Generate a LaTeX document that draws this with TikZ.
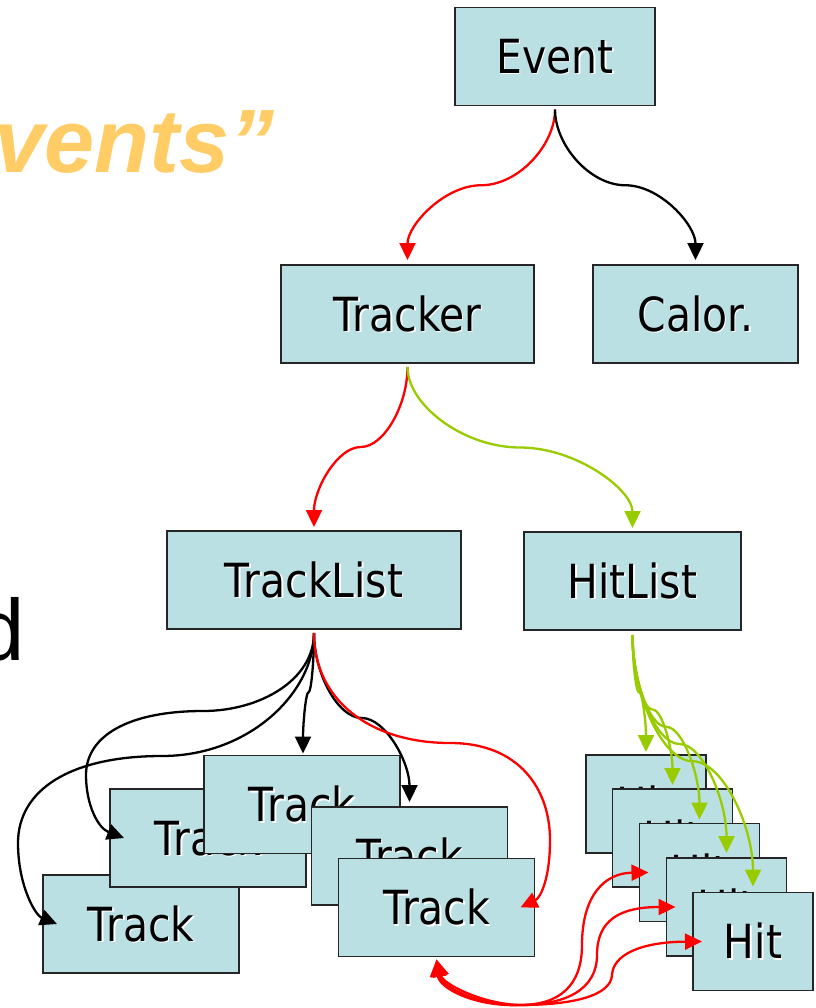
\documentclass[tikz,border=0pt]{standalone}
\usepackage{fontspec}
\setmainfont{DejaVu Sans}[FakeStretch=0.87]
\newfontfamily\plainsans{Liberation Sans}
\usetikzlibrary{arrows.meta,calc}

\definecolor{boxfill}{HTML}{BBE0E3}
\definecolor{hitgreen}{HTML}{99CC00}
\definecolor{titleorange}{HTML}{FFCC66}

% label with a soft white drop shadow
\newcommand\shd[1]{\leavevmode\rlap{\kern1.5pt\lower1.5pt\hbox{\color{white}#1}}#1}

\tikzset{
  box/.style={draw=black!85, line width=1.8pt, fill=boxfill, inner sep=0pt, outer sep=0pt,
    minimum height=98pt, text height=34pt, text depth=0pt,
    font=\fontsize{47}{56}\selectfont},
  trk/.style={box, minimum width=196pt},
  hitbox/.style={box, minimum width=120pt},
  headtri/.tip={Triangle[width=16pt,length=17pt]},
  arr/.style={-headtri},
  conn/.style={line width=2.3pt, arr},
  blk/.style={conn, draw=black},
  rd/.style={conn, draw=red},
  gr/.style={conn, draw=hitgreen},
  % curved connector: vertical at both ends, horizontal through the midpoint
  vcurve/.style={to path={
    let \p1=(\tikztostart), \p2=(\tikztotarget) in
    .. controls (\x1,{\y1+(\y2-\y1)/4}) and ({\x1+(\x2-\x1)/4},{(\y1+\y2)/2})
    .. ({(\x1+\x2)/2},{(\y1+\y2)/2})
    .. controls ({\x1+3*(\x2-\x1)/4},{(\y1+\y2)/2}) and (\x2,{\y1+3*(\y2-\y1)/4})
    .. (\x2,\y2) \tikztonodes}}
}

\begin{document}
\begin{tikzpicture}[x=1pt,y=-1pt]
\fill[white] (0,0) rectangle (815,1008);
\useasboundingbox (0,0) rectangle (815,1008);

% fragments of the slide text
\node[anchor=base west, inner sep=0pt, text=titleorange,
      font=\plainsans\bfseries\itshape\fontsize{90}{100}\selectfont] (ttl) at (-6,173) {vents”};
\node[anchor=base east, inner sep=0pt,
      font=\plainsans\fontsize{87}{100}\selectfont] (dd) at (25,660) {d};

% tree of objects
\node[box, minimum width=200pt] (event)   at (555,56.5) {\shd{Event}};
\node[box, minimum width=253pt] (tracker) at (407.5,314) {\shd{Tracker}};
\node[box, minimum width=205pt] (calor)   at (695.5,314) {\shd{Calor.}};
\node[box, minimum width=294pt] (tlist)   at (314,580) {\shd{TrackList}};
\node[box, minimum width=217pt] (hlist)   at (632.5,581) {\shd{HitList}};

% stacked tracks
\node[trk] (trA) at (141,924)   {\shd{Track}};
\node[trk] (trB) at (208,838)   {\shd{Track}};
\node[trk] (trC) at (302,804.5) {\shd{Track}};
\node[trk] (trD) at (409.5,856) {\shd{Track}};
\node[trk] (trE) at (436.5,907.5) {\shd{Track}};

% stacked hits
\node[hitbox] (h1) at (646,804)     {\shd{Hit}};
\node[hitbox] (h2) at (672.5,838)   {\shd{Hit}};
\node[hitbox] (h3) at (699.5,872.5) {\shd{Hit}};
\node[hitbox] (h4) at (726.5,907)   {\shd{Hit}};
\node[hitbox] (h5) at (753,941.5)   {\shd{Hit}};

% Event -> Tracker / Calor.
\draw[rd,  shorten <=4pt, shorten >=5pt] (event.south) to[vcurve] (tracker.north);
\draw[blk, shorten <=4pt, shorten >=5pt] (event.south) to[vcurve] (calor.north);

% Tracker -> TrackList / HitList
\draw[rd, shorten <=4pt, shorten >=4pt] (tracker.south) to[vcurve] (tlist.north);
\draw[gr, shorten <=4pt, shorten >=4pt] (tracker.south) to[vcurve] (hlist.north);

% TrackList -> tracks
\draw[blk, shorten <=4pt] (tlist.south) .. controls (314,692) and (250,756) .. (162,756)
   .. controls (70,756) and (18,790) .. (18,843)
   .. controls (18,885) and (35,915) .. ($(trA.west)+(14,0)$);
\draw[blk, shorten <=4pt] (tlist.south) .. controls (314,680) and (260,711) .. (203,711)
   .. controls (130,711) and (86,735) .. (86,775)
   .. controls (86,805) and (98,828) .. ($(trB.west)+(14,0)$);
\draw[blk, shorten <=4pt, shorten >=2pt] (tlist.south) to[vcurve] ($(trC.north)+(1,0)$);
\draw[blk, shorten <=4pt, shorten >=5pt] (tlist.south) to[vcurve] (trD.north);
\draw[rd, shorten <=4pt] (tlist.south) .. controls (314,700) and (370,743) .. (450,743)
   .. controls (520,743) and (550,790) .. (550,840)
   .. controls (550,880) and (540,898) .. ($(trE.east)+(-14,0)$);

% HitList -> hits
\draw[gr, shorten <=5pt, shorten >=3pt] (hlist.south) to[vcurve] (h1.north);
\draw[gr, shorten <=5pt, shorten >=4pt] (hlist.south) to[vcurve] (h2.north);
\draw[gr, shorten <=5pt, shorten >=4pt] (hlist.south) to[vcurve] (h3.north);
\draw[gr, shorten <=5pt, shorten >=5pt] (hlist.south) to[vcurve] (h4.north);
\draw[gr, shorten <=5pt, shorten >=6pt] (hlist.south) to[vcurve] (h5.north);

% links between the last track and its hits
\draw[rd, headtri-headtri]
   ($(trE.south)+(0,3)$) .. controls (441,986) and (478,1006) .. (520,1005)
   .. controls (560,1005) and (582,985) .. (582,945)
   .. controls (582,895) and (605,873) .. ($(h3.west)+(9,0)$);
\draw[rd, headtri-headtri]
   ($(trE.south)+(0,3)$) .. controls (443,984) and (482,1004) .. (520,1005)
   .. controls (565,1005) and (597,990) .. (597,955)
   .. controls (597,920) and (620,907) .. ($(h4.west)+(9,0)$);
\draw[rd, headtri-headtri]
   ($(trE.south)+(0,3)$) .. controls (439,988) and (475,1007) .. (520,1005)
   .. controls (575,1005) and (611,995) .. (612,975)
   .. controls (613,955) and (640,942) .. ($(h5.west)+(9,0)$);
\end{tikzpicture}
\end{document}
